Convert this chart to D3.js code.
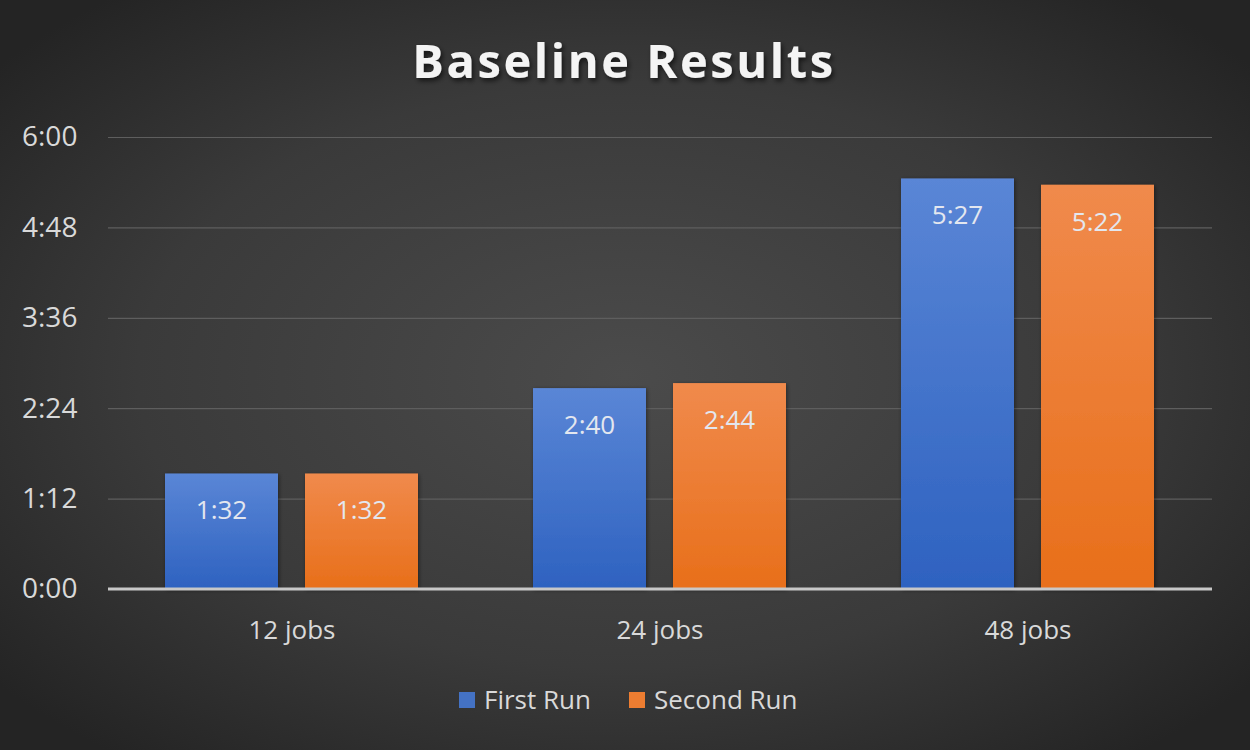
<!DOCTYPE html>
<html><head><meta charset="utf-8">
<script src="https://cdn.jsdelivr.net/npm/d3@7/dist/d3.min.js"></script>
<style>body{margin:0;background:#333}svg{display:block}</style>
</head><body>
<svg id="chart" width="1250" height="750"></svg>
<script>
const categories = ["12 jobs", "24 jobs", "48 jobs"];
const seriesNames = ["First Run", "Second Run"];
const firstRun = [92, 160, 327];   // seconds
const secondRun = [92, 164, 322];
const yTicks = [0, 72, 144, 216, 288, 360];

const fmt = s => Math.floor(s/60) + ":" + String(s%60).padStart(2,"0");
const W = 1250, H = 750;
const m = {left:108, right:38, top:137, bottom:161};
const svg = d3.select("#chart");
const defs = svg.append("defs");

const bg = defs.append("radialGradient").attr("id","bg").attr("cx","50%").attr("cy","50%").attr("r","65%");
bg.append("stop").attr("offset","0%").attr("stop-color","#4b4b4b");
bg.append("stop").attr("offset","60%").attr("stop-color","#3a3a3a");
bg.append("stop").attr("offset","100%").attr("stop-color","#242424");
const gb = defs.append("linearGradient").attr("id","gBlue").attr("x1",0).attr("y1",0).attr("x2",0).attr("y2",1);
gb.append("stop").attr("offset","0%").attr("stop-color","#5a86d6");
gb.append("stop").attr("offset","100%").attr("stop-color","#2e62c0");
const go = defs.append("linearGradient").attr("id","gOrange").attr("x1",0).attr("y1",0).attr("x2",0).attr("y2",1);
go.append("stop").attr("offset","0%").attr("stop-color","#f08a4c");
go.append("stop").attr("offset","100%").attr("stop-color","#e86f1a");
const sh = defs.append("filter").attr("id","sh").attr("x","-20%").attr("y","-20%").attr("width","140%").attr("height","140%");
sh.append("feDropShadow").attr("dx",2).attr("dy",3).attr("stdDeviation",2.5).attr("flood-color","#000").attr("flood-opacity",0.6);
const shb = defs.append("filter").attr("id","shb").attr("x","-10%").attr("y","-10%").attr("width","120%").attr("height","120%");
shb.append("feDropShadow").attr("dx",1).attr("dy",1).attr("stdDeviation",2).attr("flood-color","#000").attr("flood-opacity",0.45);

svg.append("rect").attr("width",W).attr("height",H).attr("fill","url(#bg)");

svg.append("text").attr("x",624).attr("y",78).attr("text-anchor","middle")
  .attr("font-family","Open Sans, sans-serif").attr("font-weight",700).attr("font-size",47)
  .attr("letter-spacing",2.6).attr("fill","#f4f4f4").attr("filter","url(#sh)").text("Baseline Results");

const x = d3.scaleBand().domain(categories).range([m.left, W-m.right]).paddingInner(0).paddingOuter(0);
const y = d3.scaleLinear().domain([0,360]).range([H-m.bottom, m.top]);
const xs = d3.scaleBand().domain(seriesNames).range([57, 310]).paddingInner(27/140).paddingOuter(0);

const yAxis = svg.append("g").attr("transform",`translate(${m.left},0)`)
  .call(d3.axisLeft(y).tickValues(yTicks).tickFormat(fmt).tickSize(-(W-m.left-m.right)).tickPadding(30));
yAxis.select(".domain").remove();
yAxis.selectAll(".tick line").attr("stroke","#5e5e5e").attr("stroke-width",1.2);
yAxis.selectAll(".tick text").attr("fill","#d9d9d9").attr("font-family","Open Sans, sans-serif").attr("font-size",28).attr("text-anchor","start").attr("x",-86);

const data = categories.map((c,i)=>({c, vals:[{s:seriesNames[0],v:firstRun[i]},{s:seriesNames[1],v:secondRun[i]}]}));
const fills = {"First Run":"url(#gBlue)","Second Run":"url(#gOrange)"};
const g = svg.append("g").selectAll("g").data(data).join("g").attr("transform",d=>`translate(${x(d.c)},0)`);
g.selectAll("rect").data(d=>d.vals).join("rect")
  .attr("x",d=>xs(d.s)).attr("width",xs.bandwidth())
  .attr("y",d=>y(d.v)).attr("height",d=>y(0)-y(d.v))
  .attr("fill",d=>fills[d.s]).attr("filter","url(#shb)");
g.selectAll("text").data(d=>d.vals).join("text")
  .attr("x",d=>xs(d.s)+xs.bandwidth()/2).attr("y",d=>y(d.v)+46)
  .attr("text-anchor","middle").attr("font-family","Open Sans, sans-serif").attr("font-size",26)
  .attr("fill","#e3e7ef").text(d=>fmt(d.v));

const xAxis = svg.append("g").attr("transform",`translate(0,${y(0)})`)
  .call(d3.axisBottom(x).tickSize(0).tickPadding(32));
xAxis.select(".domain").attr("stroke","#c8c8c8").attr("stroke-width",3).attr("d",`M${m.left},0H${W-m.right}`);
xAxis.selectAll(".tick text").attr("fill","#d9d9d9").attr("font-family","Open Sans, sans-serif").attr("font-size",26);

const legend = svg.append("g");
const lx = [459, 629];
seriesNames.forEach((s,i)=>{
  legend.append("rect").attr("x",lx[i]).attr("y",692).attr("width",16).attr("height",16).attr("fill",i?"#ed7d31":"#4472c4");
  legend.append("text").attr("x",lx[i]+25).attr("y",709).attr("font-family","Open Sans, sans-serif").attr("font-size",26)
    .attr("fill","#d9d9d9").text(s);
});
</script>
</body></html>
